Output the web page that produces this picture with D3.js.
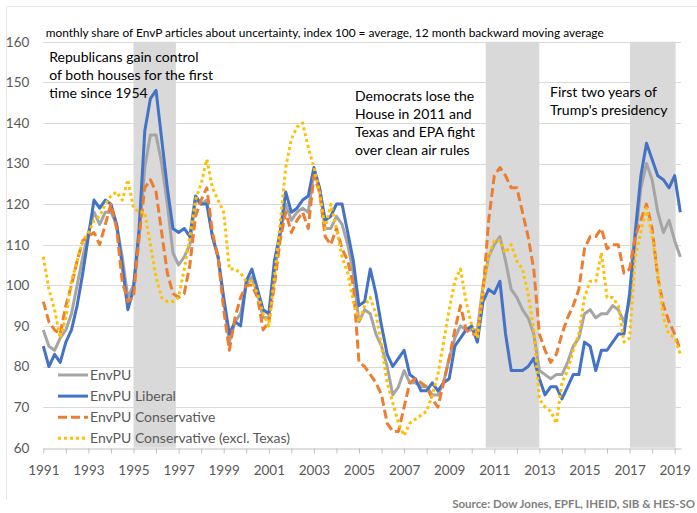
<!DOCTYPE html>
<html lang="en">
<head>
<meta charset="UTF-8">
<title>EnvPU</title>
<style>
  body { margin: 0; background: #fff; }
  svg { display: block; font-family: Lato, "Open Sans", sans-serif; }
</style>
<script src="https://cdn.jsdelivr.net/npm/d3@7"></script>
</head>
<body>
<svg id="chart" width="697" height="513"></svg>
<script>
// quarterly readings of the monthly index, first value = Jan 1991
var startYear = 1991;

var envpu = [
  89, 85, 84, 87,   89, 93, 100, 107,  113, 118, 115, 118,  118, 115, 107, 97,
  100, 112, 129, 137, 137, 130, 120, 108, 105, 107, 110, 121, 120, 121, 112, 107,
  96, 86, 91, 93,   100, 102, 98, 92,  92, 103, 112, 120,  116, 118, 119, 118,
  128, 124, 114, 114, 117, 115, 110, 103, 91, 94, 93, 88,  85, 80, 73, 75,
  79, 76, 76, 75,   75, 73, 73, 76,   82, 87, 90, 89,    89, 89, 100, 107,
  110, 112, 106, 99, 97, 94, 92, 88,  79, 78, 77, 78,    78, 81, 85, 87,
  93, 94, 92, 93,   93, 95, 94, 91,   96, 111, 124, 130, 126, 118, 113, 116,
  111, 107
];

var liberal = [
  85, 80, 83, 81,   86, 89, 95, 103,  112, 121, 119, 121, 120, 115, 105, 94,
  99, 114, 138, 146, 148, 136, 124, 114, 113, 114, 112, 122, 120, 120, 112, 107,
  97, 88, 91, 90,   101, 104, 99, 94, 93, 106, 113, 123,  118, 119, 121, 122,
  129, 124, 116, 117, 120, 120, 113, 106, 95, 96, 104, 98, 90, 83, 80, 82,
  84, 78, 77, 74,   74, 76, 74, 76,   77, 85, 87, 89,    90, 86, 96, 99,
  98, 101, 88, 79,  79, 79, 80, 82,   77, 73, 75, 75,    72, 75, 78, 78,
  86, 85, 79, 84,   84, 86, 88, 88,   98, 113, 127, 135, 131, 127, 126, 124,
  127, 118
];

var conservative = [
  96, 91, 89, 88,   95, 100, 106, 111, 112, 113, 110, 115, 120, 114, 101, 96,
  97, 112, 124, 126, 123, 113, 103, 98, 97, 98, 105, 117,  121, 124, 113, 107,
  94, 84, 92, 97,   100, 100, 97, 89, 91, 100, 111, 118,  113, 116, 118, 114,
  127, 123, 112, 110, 114, 109, 106, 100, 81, 80, 78, 76, 73, 66, 64, 64,
  70, 76, 77, 76,   75, 72, 70, 76,   82, 89, 95, 89,    88, 88, 98, 116,
  127, 129, 127, 124, 124, 118, 112, 104, 88, 84, 81, 83, 88, 92, 95, 99,
  109, 112, 112, 114, 109, 110, 110, 103, 104, 112, 116, 120, 114, 102, 95, 91,
  88, 84
];

var exTexas = [
  107, 99, 94, 87,  92, 101, 106, 111, 113, 116, 117, 120, 122, 123, 121, 126,
  119, 118, 118, 110, 102, 97, 96, 96, 97, 104, 112, 121,  125, 131, 124, 121,
  118, 104, 104, 103, 101, 101, 98, 93, 90, 102, 115, 129, 136, 139, 140, 134,
  129, 123, 114, 120, 114, 107, 103, 96, 91, 95, 97, 93,  85, 76, 71, 66,
  63, 66, 67, 68,   69, 73, 78, 86,   94, 101, 104, 96,   90, 87, 99, 107,
  111, 111, 108, 110, 106, 104, 98, 89, 72, 70, 69, 66,  76, 79, 84, 88,
  97, 101, 101, 108, 97, 97, 95, 86,  87, 107, 113, 119, 112, 103, 92, 88,
  87, 83
];

var seriesNames = ["EnvPU", "EnvPU Liberal", "EnvPU Conservative", "EnvPU Conservative (excl. Texas)"];
var bands = [[1995.0, 1996.88], [2010.62, 2013.0], [2017.02, 2019.04]];
var yTicks = [60, 70, 80, 90, 100, 110, 120, 130, 140, 150, 160];
var xLabels = [1991, 1993, 1995, 1997, 1999, 2001, 2003, 2005, 2007, 2009, 2011, 2013, 2015, 2017, 2019];

var svg = d3.select("#chart");

var x = d3.scaleLinear().domain([1991, 2019.28]).range([43.3, 681]);
var y = d3.scaleLinear().domain([60, 160]).range([447.7, 41.7]);

// outer frame (top and left edges are visible in the picture)
svg.append("path")
  .attr("d", "M6.5,500 V6.5 H697")
  .attr("fill", "none").attr("stroke", "#e6e6e6");

// shaded periods
svg.append("g").selectAll("rect").data(bands).enter().append("rect")
  .attr("x", function(d) { return x(d[0]); })
  .attr("width", function(d) { return x(d[1]) - x(d[0]); })
  .attr("y", y(160))
  .attr("height", y(60) - y(160))
  .attr("fill", "#d9d9d9");

// gridlines
svg.append("g").selectAll("line").data(yTicks.slice(1)).enter().append("line")
  .attr("x1", x.range()[0]).attr("x2", x.range()[1])
  .attr("y1", function(d) { return Math.round(y(d)) + 0.5; })
  .attr("y2", function(d) { return Math.round(y(d)) + 0.5; })
  .attr("stroke", "#d9d9d9");

// axes
var xAxis = svg.append("g")
  .attr("transform", "translate(0," + (Math.round(y(60)) + 0.5) + ")")
  .call(d3.axisBottom(x)
    .tickValues(d3.range(1991, 2020))
    .tickSize(5).tickSizeOuter(0).tickPadding(12)
    .tickFormat(function(d) { return xLabels.indexOf(d) >= 0 ? d : ""; }));
xAxis.select(".domain").attr("stroke", "#bfbfbf");
xAxis.selectAll(".tick line").attr("stroke", "#bfbfbf");
xAxis.selectAll("text").attr("font-size", "13.5px").attr("fill", "#595959")
  .attr("font-family", "Lato");

var yAxis = svg.append("g")
  .attr("transform", "translate(" + x.range()[0] + ",0)")
  .call(d3.axisLeft(y).tickValues(yTicks).tickSize(0).tickPadding(14));
yAxis.select(".domain").remove();
yAxis.selectAll("text").attr("font-size", "13.5px").attr("fill", "#595959")
  .attr("font-family", "Lato");

// series
var styles = [
  { data: envpu, color: "#a5a5a5", dash: null },
  { data: liberal, color: "#4472c4", dash: null },
  { data: conservative, color: "#ed7d31", dash: "9,4" },
  { data: exTexas, color: "#ffc000", dash: "3,3" }
];

var line = d3.line()
  .x(function(d, i) { return x(startYear + i / 4); })
  .y(function(d) { return y(d); });

styles.forEach(function(s) {
  svg.append("path")
    .datum(s.data)
    .attr("d", line)
    .attr("fill", "none")
    .attr("stroke", s.color)
    .attr("stroke-width", 3)
    .attr("stroke-linejoin", "round")
    .attr("stroke-dasharray", s.dash);
});

// legend
var legend = svg.append("g").selectAll("g").data(seriesNames).enter().append("g")
  .attr("transform", function(d, i) { return "translate(58," + (375 + i * 21.1) + ")"; });
legend.append("line")
  .attr("x1", 0).attr("x2", 30)
  .attr("stroke", function(d, i) { return styles[i].color; })
  .attr("stroke-width", 3)
  .attr("stroke-dasharray", function(d, i) { return styles[i].dash; });
legend.append("text")
  .attr("x", 32).attr("dy", "0.35em")
  .attr("font-size", "14px").attr("fill", "#595959")
  .text(function(d) { return d; });

// title and notes
svg.append("text")
  .attr("x", 45.7).attr("y", 36.7)
  .attr("font-size", "11.9px").attr("fill", "#000")
  .text("monthly share of EnvP articles about uncertainty, index 100 = average, 12 month backward moving average");

var notes = [
  { x: 49.3, y: 61.7, lines: ["Republicans gain control", "of both houses for the first", "time since 1954"] },
  { x: 355, y: 101, lines: ["Democrats lose the", "House in 2011 and", "Texas and EPA fight", "over clean air rules"] },
  { x: 550, y: 97.3, lines: ["First two years of", "Trump's presidency"] }
];
notes.forEach(function(n) {
  var t = svg.append("text").attr("font-size", "14px").attr("fill", "#000");
  n.lines.forEach(function(l, i) {
    t.append("tspan").attr("x", n.x).attr("y", n.y + i * 18).text(l);
  });
});

svg.append("text")
  .attr("x", 695).attr("y", 508).attr("text-anchor", "end")
  .attr("font-size", "11.5px").attr("font-weight", "bold").attr("fill", "#7f7f7f")
  .text("Source: Dow Jones, EPFL, IHEID, SIB & HES-SO");
</script>
</body>
</html>
